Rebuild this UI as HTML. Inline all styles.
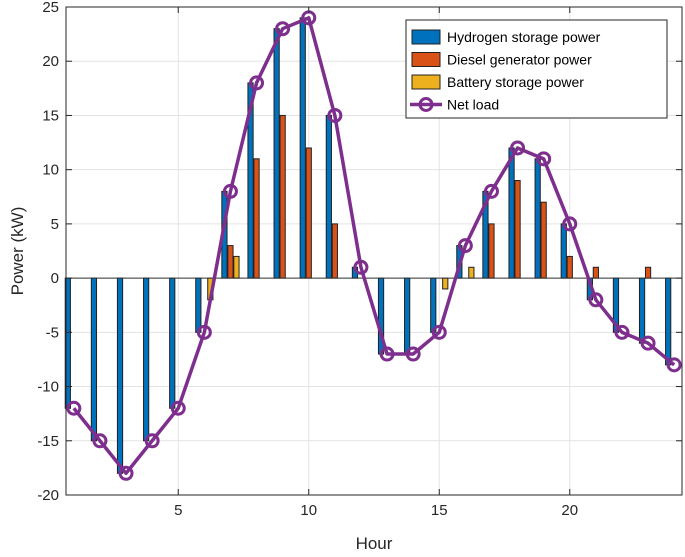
<!DOCTYPE html>
<html><head><meta charset="utf-8"><style>
body{margin:0;background:#fff;font-family:"Liberation Sans",sans-serif}
svg text{font-family:"Liberation Sans",sans-serif}
</style></head><body>
<svg id="chart" width="685" height="552" xmlns="http://www.w3.org/2000/svg"></svg>
<script>
const hours=[1,2,3,4,5,6,7,8,9,10,11,12,13,14,15,16,17,18,19,20,21,22,23,24];
const hydrogen=[-12,-15,-18,-15,-12,-5,8,18,23,24,15,1,-7,-7,-5,3,8,12,11,5,-2,-5,-6,-8];
const diesel=[0,0,0,0,0,0,3,11,15,12,5,0,0,0,0,0,5,9,7,2,1,0,1,0];
const battery=[0,0,0,0,0,-2,2,0,0,0,0,0,0,0,-1,1,0,0,0,0,0,0,0,0];
const netLoad=[-12,-15,-18,-15,-12,-5,8,18,23,24,15,1,-7,-7,-5,3,8,12,11,5,-2,-5,-6,-8];
const xTicks=[5,10,15,20];
const yTicks=[-20,-15,-10,-5,0,5,10,15,20,25];

const svg=document.getElementById('chart');
const NS='http://www.w3.org/2000/svg';
const L=66,R=682,T=7,B=495,xmin=0.7,xmax=24.3,ymin=-20,ymax=25;
const X=v=>L+(v-xmin)/(xmax-xmin)*(R-L);
const Y=v=>B-(v-ymin)/(ymax-ymin)*(B-T);
function mk(tag,attrs,parent){const e=document.createElementNS(NS,tag);for(const k in attrs)e.setAttribute(k,attrs[k]);(parent||svg).appendChild(e);return e;}

const grid=mk('g',{});


xTicks.forEach(t=>mk('line',{x1:X(t),x2:X(t),y1:T,y2:B,stroke:'#e3e3e3','stroke-width':1},grid));
yTicks.forEach(t=>mk('line',{x1:L,x2:R,y1:Y(t),y2:Y(t),stroke:'#e3e3e3','stroke-width':1},grid));

const bw=(R-L)/(xmax-xmin)*0.2;
function bars(vals,off,color,name){
  const g=mk('g',{});
  
  
  vals.forEach((v,i)=>{
    if(v===0) return;
    const cx=X(hours[i]+off);
    const r=mk('rect',{x:cx-bw/2,y:Math.min(Y(v),Y(0)),width:bw,height:Math.abs(Y(v)-Y(0)),fill:color,stroke:'#222','stroke-width':1},g);
    
    
  });
}
bars(hydrogen,-0.23,'#0072bd','hydrogen-series');
bars(diesel,0,'#d95319','diesel-series');
bars(battery,0.23,'#edb120','battery-series');
mk('line',{x1:L,x2:R,y1:Y(0),y2:Y(0),stroke:'#333','stroke-width':1});

const lg=mk('g',{});


mk('polyline',{points:netLoad.map((v,i)=>X(hours[i])+','+Y(v)).join(' '),fill:'none',stroke:'#7e2f8e','stroke-width':3.5,'stroke-linejoin':'round'},lg);
netLoad.forEach((v,i)=>{const c=mk('circle',{cx:X(hours[i]),cy:Y(v),r:6,fill:'none',stroke:'#7e2f8e','stroke-width':3},lg);

});

mk('rect',{x:L,y:T,width:R-L,height:B-T,fill:'none',stroke:'#262626','stroke-width':1});
xTicks.forEach(t=>{mk('line',{x1:X(t),x2:X(t),y1:B,y2:B-6,stroke:'#262626'});mk('line',{x1:X(t),x2:X(t),y1:T,y2:T+6,stroke:'#262626'});
const tx=mk('text',{x:X(t),y:B+20,'text-anchor':'middle','font-size':15,fill:'#262626'});tx.textContent=t;

});
yTicks.forEach(t=>{mk('line',{x1:L,x2:L+6,y1:Y(t),y2:Y(t),stroke:'#262626'});mk('line',{x1:R,x2:R-6,y1:Y(t),y2:Y(t),stroke:'#262626'});
const tx=mk('text',{x:L-7,y:Y(t)+5,'text-anchor':'end','font-size':15,fill:'#262626'});tx.textContent=t;

});
const xt=mk('text',{x:(L+R)/2,y:549,'text-anchor':'middle','font-size':17,fill:'#262626'});xt.textContent='Hour';


const yt=mk('text',{x:0,y:0,transform:'translate(23,'+((T+B)/2)+') rotate(-90)','text-anchor':'middle','font-size':17,fill:'#262626'});yt.textContent='Power (kW)';



const leg=mk('g',{});


mk('rect',{x:406,y:20,width:261,height:98,fill:'#fff',stroke:'#262626','stroke-width':1},leg);
const items=[['Hydrogen storage power','#0072bd'],['Diesel generator power','#d95319'],['Battery storage power','#edb120']];
items.forEach((it,i)=>{const y=37+i*22.5;
mk('rect',{x:412,y:y-7,width:28,height:14,fill:it[1],stroke:'#222'},leg);
const t=mk('text',{x:447,y:y+5,'font-size':14,fill:'#000'},leg);t.textContent=it[0];

});
const ly=37+3*22.5;
mk('line',{x1:410,x2:442,y1:ly,y2:ly,stroke:'#7e2f8e','stroke-width':3.5},leg);
mk('circle',{cx:426,cy:ly,r:6,fill:'none',stroke:'#7e2f8e','stroke-width':3},leg);
const t4=mk('text',{x:447,y:ly+5,'font-size':14,fill:'#000'},leg);t4.textContent='Net load';


</script>
</body></html>
